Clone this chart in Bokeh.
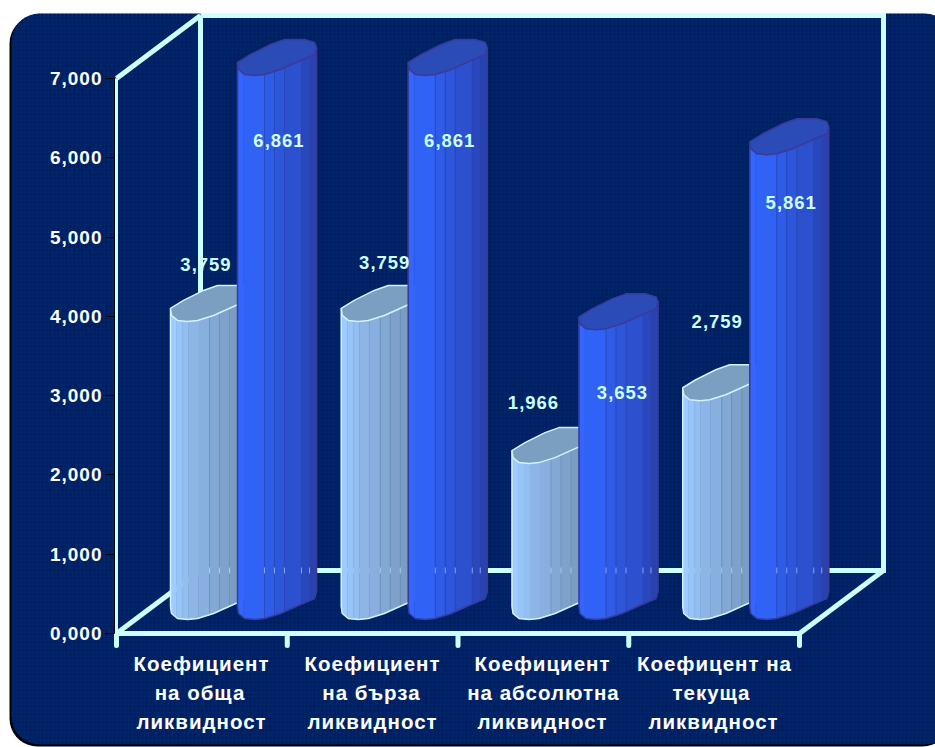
from bokeh.plotting import figure
from bokeh.embed import file_html
from bokeh.resources import INLINE
from bokeh.models import Range1d, LinearAxis, FixedTicker, InlineStyleSheet
from bokeh.core.properties import value
import numpy as np

category_lines = [
    ["Коефициент", "на обща", "ликвидност"],
    ["Коефициент", "на бърза", "ликвидност"],
    ["Коефициент", "на абсолютна", "ликвидност"],
    ["Коефицент на", "текуща", "ликвидност"],
]
light_values = [3.759, 3.759, 1.966, 2.759]
dark_values = [6.861, 6.861, 3.653, 5.861]
y_ticks = [0, 1, 2, 3, 4, 5, 6, 7]

BAND = 170.75   # px per category
UNIT = 79.29    # px per 1,000
OX, OY = 116, 633
W, H = 935, 747

def X(s):  # page px -> data
    return (np.asarray(s, dtype=float) - OX) / BAND
def Y(s):
    return (OY - np.asarray(s, dtype=float)) / UNIT
def dX(d):
    return np.asarray(d, dtype=float) / BAND
def dY(d):  # px downwards -> data
    return -np.asarray(d, dtype=float) / UNIT

p = figure(width=W, height=H, x_range=Range1d(float(X(0)), float(X(W))),
           y_range=Range1d(float(Y(H)), float(Y(0))), output_backend="svg",
           toolbar_location=None, x_axis_location=None, y_axis_location=None,
           min_border=0, background_fill_color="white", border_fill_color="white",
           outline_line_color=None)
p.grid.visible = False
p.stylesheets = [InlineStyleSheet(css=":host { letter-spacing: 1px; }")]

def rounded(x0, y0, x1, y1, r):
    pts = []
    for cx, cy, a0 in ((x1 - r, y0 + r, -90), (x1 - r, y1 - r, 0), (x0 + r, y1 - r, 90), (x0 + r, y0 + r, 180)):
        for a in np.radians(np.linspace(a0, a0 + 90, 10)):
            pts.append((cx + r * np.cos(a), cy + r * np.sin(a)))
    a = np.array(pts)
    return X(a[:, 0]), Y(a[:, 1])

# panel with shadow
sx, sy = rounded(9, 15, 950, 746, 28)
p.patch(sx, sy, fill_color="black", line_color=None)
px_, py_ = rounded(11, 13, 952, 744, 28)
p.patch(px_, py_, fill_color="#002468", line_color=None, hatch_pattern="dot",
        hatch_color="#00195c", hatch_scale=4, hatch_weight=1.5)

# walls and floor
FRAME = "#CCFFFF"
dx3, dy3 = float(dX(84)), float(dY(-63))
n = len(category_lines)
top = y_ticks[-1]
lines = [
    ([0, dx3], [top, top + dy3]),
    ([dx3, dx3], [top + dy3, dy3]),
    ([dx3, n + dx3, n + dx3, dx3], [top + dy3, top + dy3, dy3, dy3]),
    ([0, dx3], [0, dy3]),
    ([n, n + dx3], [0, dy3]),
    ([0, n], [0, 0]),
]
for lx, ly in lines:
    p.line(lx, ly, line_color=FRAME, line_width=5, line_join="miter")
p.line([0, 0], [0, top], line_color=FRAME, line_width=3)

# category stubs
p.segment(list(range(n + 1)), [0] * (n + 1), list(range(n + 1)), [float(dY(12))] * (n + 1),
          line_color=FRAME, line_width=5, line_cap="round")

# y axis
yax = LinearAxis(ticker=FixedTicker(ticks=y_ticks), fixed_location=float(dX(-2)), bounds=(0, top),
                 major_label_overrides={t: f"{t},000" for t in y_ticks},
                 axis_line_color="black", axis_line_width=1, major_tick_line_color="black",
                 major_tick_out=9, major_tick_in=0, minor_tick_line_color=None,
                 major_label_text_color="white", major_label_text_font="Liberation Sans",
                 major_label_text_font_style="bold", major_label_text_font_size="19px",
                 major_label_standoff=8)
p.add_layout(yax, "left")

# bars
FX = [0, 1, 7, 17, 27, 43, 63, 77, 79]
FY = [0, 7, 12, 13, 12, 7, -2, -8, -15]
TOP = [(0, 0), (13, -8), (33, -18), (47, -23), (67, -23), (77, -20), (79, -15), (77, -8), (63, -2),
       (43, 7), (27, 12), (17, 13), (7, 12), (1, 7)]
BASE = float(Y(606))
LIGHT_OFF, DARK_OFF = 54 / BAND, 121 / BAND
L_EDGES = [0, 6, 12, 18, 28, 39, 49, 59, 69, 79]
L_COLS = ["#9FCCFF", "#98C5F8", "#93BEF0", "#8DB6E6", "#88AFDE", "#82A8D4", "#7EA2CC", "#7A9DC4", "#769ABE"]
L_SEAMS = [39, 49, 59]
D_EDGES = [0, 6, 27, 37, 47, 64, 72, 79]
D_COLS = ["#3366FF", "#3062F6", "#2E5CE6", "#2D56DA", "#2C50CE", "#2A48BC", "#2A42AE"]
D_SEAMS = [27, 37, 47, 64, 72]

def front(d):
    return np.interp(d, FX, FY)

def bar(x_left, val, edges, cols, seams, seam, outline, cap, glint):
    xs, ys = [], []
    for a, b in zip(edges[:-1], edges[1:]):
        sub = [d for d in FX if a < d < b]
        ds = [a] + sub + [b]
        topy = [BASE + val + float(dY(front(d))) for d in ds]
        boty = [BASE + float(dY(front(d))) for d in ds]
        xs.append([x_left + float(dX(d)) for d in ds + ds[::-1]])
        ys.append(topy + boty[::-1])
    p.patches(xs, ys, fill_color=cols, line_color=cols, line_width=0.5)
    p.segment([x_left + float(dX(d)) for d in seams], [BASE + float(dY(front(d))) for d in seams],
              [x_left + float(dX(d)) for d in seams], [BASE + val + float(dY(front(d))) for d in seams],
              line_color=seam, line_width=0.8)
    # back floor line glinting through the facet seams
    p.segment([x_left + float(dX(d)) for d in seams], [dy3 + float(dY(3))] * len(seams),
              [x_left + float(dX(d)) for d in seams], [dy3 + float(dY(-3))] * len(seams),
              line_color=glint, line_width=1)
    ox = [x_left + float(dX(d)) for d in FX]
    oy = [BASE + float(dY(f)) for f in FY]
    p.line([x_left] + ox + [x_left + float(dX(79))],
           [BASE + val] + oy + [BASE + val + float(dY(-15))],
           line_color=outline, line_width=1.5)
    tx = [x_left + float(dX(a)) for a, _ in TOP]
    ty = [BASE + val + float(dY(b)) for _, b in TOP]
    p.patch(tx, ty, fill_color=cap, line_color=outline, line_width=1.5)

for i in range(n):
    bar(i + LIGHT_OFF, light_values[i], L_EDGES, L_COLS, L_SEAMS, "#6F8FB8", "#D2F2FF", "#7B9FC0", "#A8CBEE")
    bar(i + DARK_OFF, dark_values[i], D_EDGES, D_COLS, D_SEAMS, "#2A46B4", "#3A3A9C", "#2B4BB6", "#7FA6F5")

# value labels (offset from bar's left corner / top, px)
L_DX = [33, 41, 19, 32]
L_DY = [-44, -46, -48, -66]
D_DX = [39, 39, 41, 39]
D_DY = [78, 78, 76, 61]
def fmt(v):
    return f"{v:.3f}".replace(".", ",")
lab_x = [i + LIGHT_OFF + float(dX(L_DX[i])) for i in range(n)] + [i + DARK_OFF + float(dX(D_DX[i])) for i in range(n)]
lab_y = [BASE + light_values[i] + float(dY(L_DY[i])) for i in range(n)] + [BASE + dark_values[i] + float(dY(D_DY[i])) for i in range(n)]
lab_t = [fmt(v) for v in light_values] + [fmt(v) for v in dark_values]
p.text(lab_x, lab_y, text=lab_t, text_color="#CCFFFF", text_font=value("Liberation Sans"),
       text_font_style="bold", text_font_size="18.5px", text_align="center", text_baseline="middle")

# category labels
cx, cy, ct = [], [], []
LINE_Y = [663, 692, 721]
C_X = [196, 367, 537, 708]
for i, ls in enumerate(category_lines):
    for j, t in enumerate(ls):
        cx.append(float(X(C_X[i])))
        cy.append(float(Y(LINE_Y[j])))
        ct.append(t)
p.text(cx, cy, text=ct, text_color="white", text_font=value("Liberation Sans"),
       text_font_style="bold", text_font_size="20.5px", text_align="center", text_baseline="middle")

open("out.html", "w").write(file_html(p, INLINE))
